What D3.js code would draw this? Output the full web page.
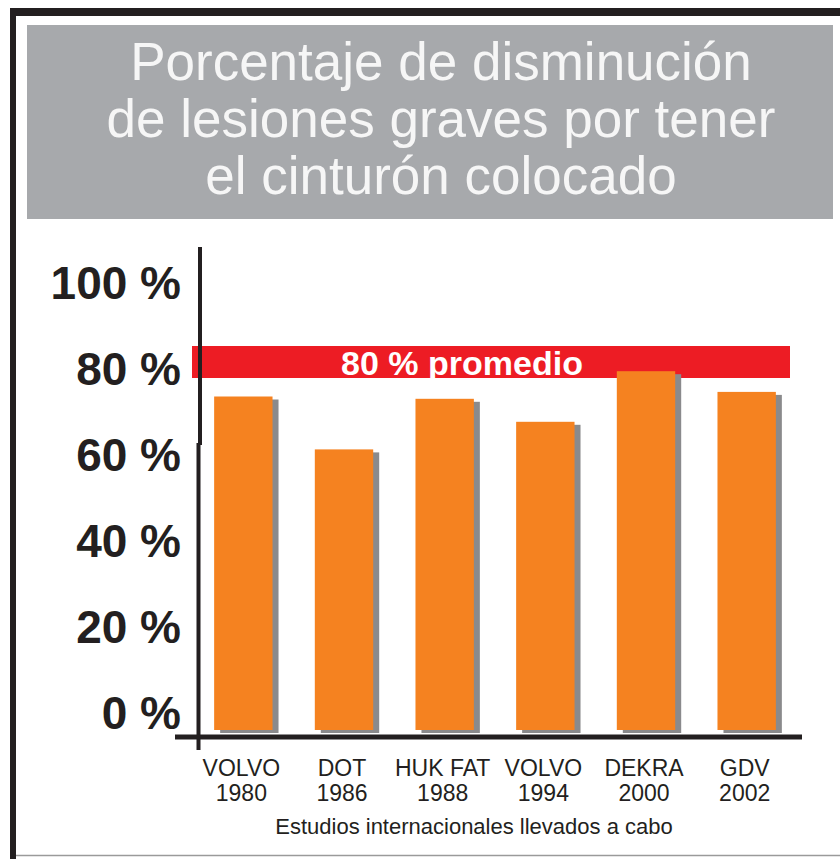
<!DOCTYPE html>
<html>
<head>
<meta charset="utf-8">
<script src="https://d3js.org/d3.v7.min.js"></script>
<style>
  body { margin: 0; background: #fff; }
  text { font-family: Arial, "Liberation Sans", sans-serif; }
  .title { fill: #f6f6f6; font-size: 53px; }
  .ytick text { font-size: 46px; font-weight: bold; fill: #231f20; }
  .xlab { font-size: 23px; fill: #231f20; }
  .xtitle { font-size: 22px; fill: #231f20; }
  .avg { font-size: 34px; font-weight: bold; fill: #fff; }
</style>
</head>
<body>
<script>
var svgWidth = 840, svgHeight = 859;

// data
var studies = ["VOLVO", "DOT", "HUK FAT", "VOLVO", "DEKRA", "GDV"];
var years = ["1980", "1986", "1988", "1994", "2000", "2002"];
var reduction = [72.5, 61, 72, 67, 78, 73.5];
var average = 80;
var yTicks = [0, 20, 40, 60, 80, 100];
var titleLines = ["Porcentaje de disminución", "de lesiones graves por tener", "el cinturón colocado"];
var xTitle = "Estudios internacionales llevados a cabo";

var svg = d3.select("body").append("svg")
    .attr("width", svgWidth)
    .attr("height", svgHeight);

// frame
svg.append("rect").attr("x", 10).attr("y", 8).attr("width", 840).attr("height", 8).attr("fill", "#231f20");
svg.append("rect").attr("x", 10).attr("y", 8).attr("width", 6).attr("height", 851).attr("fill", "#231f20");
svg.append("line").attr("x1", 16).attr("x2", 840).attr("y1", 855.5).attr("y2", 855.5)
    .attr("stroke", "#9a9a9a").attr("stroke-width", 1.5);

// title box
svg.append("rect").attr("x", 27).attr("y", 25).attr("width", 806).attr("height", 194).attr("fill", "#a7a9ac");
svg.append("g").selectAll("text")
    .data(titleLines)
    .enter().append("text")
    .attr("class", "title")
    .attr("x", 441)
    .attr("y", function(d, i){ return 80 + i * 57; })
    .attr("text-anchor", "middle")
    .text(function(d){ return d; });

// scales
var keys = d3.range(studies.length);
var x = d3.scaleBand().domain(keys).range([193, 797]).paddingInner(0.42).paddingOuter(0.21);
var y = d3.scaleLinear().domain([0, 100]).range([730, 270]);
// the printed tick labels sit on a slightly tighter spacing than the bars
var yLabel = d3.scaleLinear().domain([0, 100]).range([714, 284]);

// average band
var bandH = 32;
svg.append("rect")
    .attr("x", 192).attr("y", y(average) - bandH / 2)
    .attr("width", 598).attr("height", bandH)
    .attr("fill", "#ed1c24");
svg.append("text")
    .attr("class", "avg")
    .attr("x", 462).attr("y", y(average) + 13)
    .attr("text-anchor", "middle")
    .text(average + " % promedio");

// bars with shadows
var bars = svg.append("g").selectAll("g")
    .data(keys)
    .enter().append("g");
bars.append("rect")
    .attr("x", function(i){ return x(i) + 6; })
    .attr("y", function(i){ return y(reduction[i]) + 3; })
    .attr("width", x.bandwidth())
    .attr("height", function(i){ return y(0) - y(reduction[i]); })
    .attr("fill", "#8a8a8c");
bars.append("rect")
    .attr("x", function(i){ return x(i); })
    .attr("y", function(i){ return y(reduction[i]); })
    .attr("width", x.bandwidth())
    .attr("height", function(i){ return y(0) - y(reduction[i]); })
    .attr("fill", "#f58220");

// y axis labels
var yAxis = d3.axisLeft(yLabel)
    .tickValues(yTicks)
    .tickSize(0)
    .tickPadding(0)
    .tickFormat(function(d){ return d + " %"; });
var yg = svg.append("g")
    .attr("class", "ytick")
    .attr("transform", "translate(181,0)")
    .call(yAxis);
yg.select(".domain").remove();

// axis lines
svg.append("line").attr("x1", 200).attr("x2", 200).attr("y1", 247).attr("y2", 445)
    .attr("stroke", "#231f20").attr("stroke-width", 4);
svg.append("line").attr("x1", 198.5).attr("x2", 198.5).attr("y1", 443).attr("y2", 750)
    .attr("stroke", "#231f20").attr("stroke-width", 4);
svg.append("line").attr("x1", 175).attr("x2", 802).attr("y1", 737).attr("y2", 737)
    .attr("stroke", "#231f20").attr("stroke-width", 5);

// x labels
var xl = svg.append("g").selectAll("text")
    .data(keys)
    .enter().append("text")
    .attr("class", "xlab")
    .attr("text-anchor", "middle")
    .attr("transform", function(i){ return "translate(" + (x(i) + x.bandwidth() / 2 - 2) + ",776)"; });
xl.append("tspan").attr("x", 0).attr("y", 0).text(function(i){ return studies[i]; });
xl.append("tspan").attr("x", 0).attr("y", 25).text(function(i){ return years[i]; });

svg.append("text")
    .attr("class", "xtitle")
    .attr("x", 474).attr("y", 834)
    .attr("text-anchor", "middle")
    .text(xTitle);
</script>
</body>
</html>
